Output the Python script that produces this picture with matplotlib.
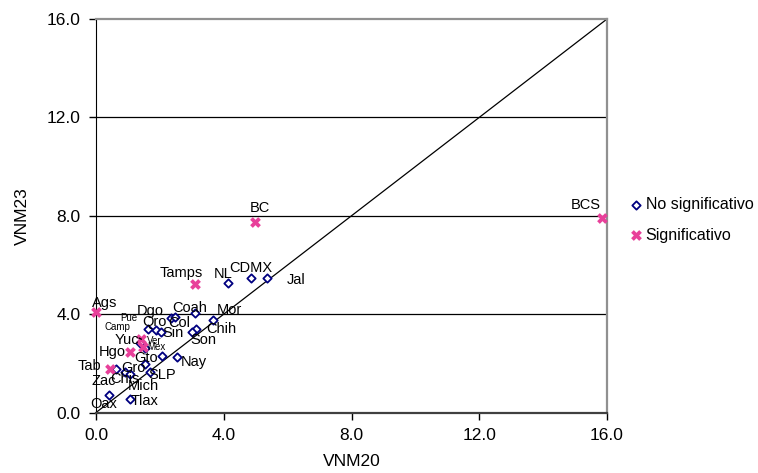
import matplotlib
matplotlib.use('Agg')
import matplotlib.pyplot as plt

plt.rcParams['font.family'] = ['Liberation Sans', 'DejaVu Sans']

# States, VNM20 (x), VNM23 (y), significance flag
states = ['Ags', 'Tamps', 'NL', 'CDMX', 'Jal', 'BC', 'BCS', 'Dgo', 'Pue', 'Coah',
          'Mor', 'Qro', 'Col', 'Sin', 'Chih', 'Son', 'Camp', 'Yuc', 'Ver', 'Mex',
          'Hgo', 'Gto', 'Nay', 'Tab', 'Gro', 'SLP', 'Zac', 'Chis', 'Mich', 'Oax', 'Tlax']
vnm20 = [0.0, 3.09, 4.12, 4.85, 5.34, 4.97, 15.84, 2.36, 2.46, 3.09,
         3.66, 1.63, 1.89, 2.02, 3.12, 2.99, 1.42, 1.37, 1.47, 1.52,
         1.05, 2.05, 2.52, 0.43, 1.52, 1.68, 0.64, 0.92, 1.07, 0.40, 1.07]
vnm23 = [4.10, 5.21, 5.25, 5.48, 5.46, 7.73, 7.92, 3.83, 3.89, 4.06,
         3.76, 3.39, 3.35, 3.26, 3.41, 3.26, 2.98, 2.83, 2.68, 2.62,
         2.47, 2.30, 2.24, 1.77, 1.97, 1.66, 1.77, 1.63, 1.55, 0.71, 0.55]
signif = [1, 1, 0, 0, 0, 1, 1, 0, 0, 0,
          0, 0, 0, 0, 0, 0, 1, 0, 1, 0,
          1, 0, 0, 1, 0, 0, 0, 0, 0, 0, 0]

# label offsets (pixels) from the marker
offsets = {'Ags': (9, 9), 'Tamps': (-13, 11), 'NL': (-4, 9), 'CDMX': (0, 10),
           'Jal': (30, -2), 'BC': (5, 14), 'BCS': (-16, 13), 'Dgo': (-21, 7),
           'Pue': (-46, -1), 'Coah': (-5, 5), 'Mor': (16, 10), 'Qro': (6, 7),
           'Col': (23, 7), 'Sin': (12, -1), 'Chih': (26, 0), 'Son': (12, -8),
           'Camp': (-24, 12), 'Yuc': (-13, 3), 'Ver': (11, 6), 'Mex': (12, 1),
           'Hgo': (-17, 0), 'Gto': (-15, -2), 'Nay': (17, -5), 'Tab': (-20, 3),
           'Gro': (-11, -4), 'SLP': (12, -3), 'Zac': (-13, -12), 'Chis': (0, -7),
           'Mich': (13, -12), 'Oax': (-5, -9), 'Tlax': (14, -2)}
small = ['Pue', 'Camp', 'Ver', 'Mex']

blue = '#000080'
pink = '#e8409a'

fig = plt.figure(figsize=(7.58, 4.73), dpi=100)
ax = fig.add_axes([0.1267, 0.1279, 0.8008 - 0.1267, 0.9598 - 0.1279])

ax.plot([0, 16], [0, 16], color='black', lw=0.9, zorder=2)
for g in [4, 8, 12]:
    ax.axhline(g, color='black', lw=0.9, zorder=1)

nx = [x for x, s in zip(vnm20, signif) if not s]
ny = [y for y, s in zip(vnm23, signif) if not s]
sx = [x for x, s in zip(vnm20, signif) if s]
sy = [y for y, s in zip(vnm23, signif) if s]
ax.scatter(nx, ny, marker='D', s=18, facecolor='white', edgecolor=blue,
           linewidth=1.3, zorder=4, label='No significativo', clip_on=False)
ax.scatter(sx, sy, marker='X', s=60, color=pink, linewidth=0, zorder=4,
           label='Significativo', clip_on=False)

for name, x, y in zip(states, vnm20, vnm23):
    dx, dy = offsets[name]
    fs = 7 if name in small else 10.5
    if name == 'Camp':
        ax.annotate(name, (x, y), xytext=(dx, dy), textcoords='offset pixels',
                    ha='center', va='center', fontsize=fs, zorder=5,
                    arrowprops=dict(arrowstyle='-', color='black', lw=1,
                                    shrinkA=5, shrinkB=0))
    else:
        ax.annotate(name, (x, y), xytext=(dx, dy), textcoords='offset pixels',
                    ha='center', va='center', fontsize=fs, zorder=5)

ax.set_xlim(0, 16)
ax.set_ylim(0, 16)
ax.set_xticks([0, 4, 8, 12, 16])
ax.set_yticks([0, 4, 8, 12, 16])
ax.set_xticklabels(['0.0', '4.0', '8.0', '12.0', '16.0'])
ax.set_yticklabels(['0.0', '4.0', '8.0', '12.0', '16.0'])
ax.tick_params(direction='out', length=5, width=1, labelsize=12.5, pad=6)

ax.spines['left'].set_color('black')
ax.spines['bottom'].set_color('#404040')
ax.spines['bottom'].set_linewidth(1.6)
ax.spines['top'].set_color('#909090')
ax.spines['right'].set_color('#909090')
ax.spines['top'].set_linewidth(1.6)
ax.spines['right'].set_linewidth(1.6)

ax.set_xlabel('VNM20', fontsize=12.5, labelpad=8)
ax.set_ylabel('VNM23', fontsize=12.5, labelpad=12)

ax.legend(loc='center left', bbox_to_anchor=(1.01, 0.49), frameon=False,
          fontsize=11.5, handletextpad=0.0, labelspacing=1.0, handlelength=1.2)

fig.savefig('out.png', dpi=100)
